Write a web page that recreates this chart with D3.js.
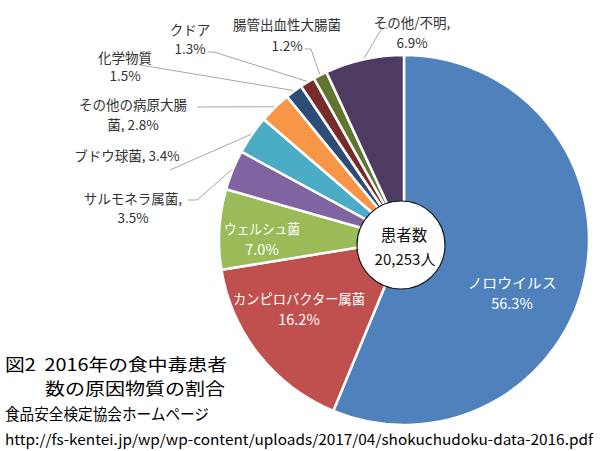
<!DOCTYPE html>
<html lang="ja">
<head>
<meta charset="UTF-8">
<title>食中毒患者数の原因物質</title>
<script src="https://cdn.jsdelivr.net/npm/d3@7"></script>
<style>
  body { margin: 0; background: #fff; }
  text { font-family: "Noto Sans CJK JP", "Noto Sans", sans-serif; }
</style>
</head>
<body>
<svg id="chart" width="600" height="451"></svg>
<script>
// data
const categories = ["ノロウイルス", "カンピロバクター属菌", "ウェルシュ菌", "サルモネラ属菌", "ブドウ球菌",
  "その他の病原大腸菌", "化学物質", "クドア", "腸管出血性大腸菌", "その他/不明"];
const values = [56.3, 16.2, 7.0, 3.5, 3.4, 2.8, 1.5, 1.3, 1.2, 6.9];
const colors = ["#4f81bd", "#c0504d", "#9bbb59", "#8064a2", "#4bacc6", "#f79646",
  "#2c4d75", "#772c2a", "#5f7530", "#4d3b62"];
const totalPatients = "20,253人";

const svg = d3.select("#chart")
const cx = 404, cy = 240, r = 185

const pie = d3.pie().sort(null).value(d => d)
const arcs = pie(values)
const arc = d3.arc().innerRadius(0).outerRadius(r)
const edge = d3.arc().innerRadius(r + 1).outerRadius(r + 1)

const g = svg.append("g").attr("transform", `translate(${cx},${cy})`)

g.selectAll("path.slice")
  .data(arcs)
  .join("path")
  .attr("class", "slice")
  .attr("d", arc)
  .attr("fill", (d, i) => colors[i])
  .attr("stroke", "#fff")
  .attr("stroke-width", 2.5)

// inside labels (white)
const inside = {
  0: { x: 512, y: 282, w: 89 },
  1: { x: 299, y: 298, w: 132 },
  2: { x: 262, y: 228, w: 76 }
}
Object.entries(inside).forEach(([i, p]) => {
  svg.append("text")
    .attr("x", p.x).attr("y", p.y)
    .attr("text-anchor", "middle").attr("dominant-baseline", "central")
    .attr("fill", "#fff")
    .attr("textLength", p.w).attr("lengthAdjust", "spacingAndGlyphs")
    .style("font-size", "14px")
    .text(categories[i])
  svg.append("text")
    .attr("x", p.x).attr("y", p.y + 20)
    .attr("text-anchor", "middle").attr("dominant-baseline", "central")
    .attr("fill", "#fff")
    .style("font-size", "14.5px")
    .text(values[i].toFixed(1) + "%")
})

// outside labels with leader lines
const pct = i => values[i].toFixed(1) + "%"
const outside = [
  { i: 3, x: 133, lines: [[198, categories[3] + ","], [217, pct(3)]], from: [[188, 200], [197, 200]] },
  { i: 4, x: 127, lines: [[155, categories[4] + ", " + pct(4)]], from: [[170, 170]] },
  { i: 5, x: 133, lines: [[104, "その他の病原大腸"], [124, "菌, " + pct(5)]], from: [[197, 107]] },
  { i: 6, x: 125, lines: [[57, categories[6]], [75, pct(6)]], from: [[140, 65]] },
  { i: 7, x: 190, lines: [[29, categories[7]], [48, pct(7)]], from: [[208, 52], [214, 52]] },
  { i: 8, x: 287, lines: [[24, categories[8]], [45, pct(8)]], from: [[305, 49], [311, 49]] },
  { i: 9, x: 412, lines: [[22, categories[9] + ","], [42, pct(9)]], from: [[388, 28], [382, 28]] }
]

outside.forEach(o => {
  const c = edge.centroid(arcs[o.i])
  const pts = o.from.concat([[c[0] + cx, c[1] + cy]])
  svg.append("path")
    .attr("d", d3.line()(pts))
    .attr("fill", "none")
    .attr("stroke", "#a6a6a6")
    .attr("stroke-width", 1)
  const t = svg.append("text")
    .attr("text-anchor", "middle")
    .attr("fill", "#333")
    .style("font-size", "13.5px")
  o.lines.forEach(([y, s]) => {
    t.append("tspan").attr("x", o.x).attr("y", y).attr("dominant-baseline", "central").text(s)
  })
})

// centre circle
svg.append("circle")
  .attr("cx", 401).attr("cy", 245).attr("r", 44)
  .attr("fill", "#fff")
  .attr("stroke", "#1a1a1a")
  .attr("stroke-width", 1.2)
svg.append("text").attr("x", 404).attr("y", 234).attr("text-anchor", "middle")
  .attr("dominant-baseline", "central").style("font-size", "15.5px").attr("fill", "#111")
  .text("患者数")
svg.append("text").attr("x", 405).attr("y", 258).attr("text-anchor", "middle")
  .attr("dominant-baseline", "central").style("font-size", "15px").attr("fill", "#111")
  .text(totalPatients)

// caption
const cap = [
  { x: 5, y: 371, s: "図2\u00a0 2016年の食中毒患者", size: 17, w: 222 },
  { x: 45, y: 395, s: "数の原因物質の割合", size: 17, w: 180 },
  { x: 5, y: 420, s: "食品安全検定協会ホームページ", size: 15.5, w: 204 },
  { x: 5, y: 445, s: "http://fs-kentei.jp/wp/wp-content/uploads/2017/04/shokuchudoku-data-2016.pdf", size: 14.5, w: 588 }
]
cap.forEach(c => {
  svg.append("text")
    .attr("x", c.x).attr("y", c.y)
    .attr("fill", "#000")
    .attr("textLength", c.w)
    .attr("lengthAdjust", "spacingAndGlyphs")
    .style("font-size", c.size + "px")
    .text(c.s)
})
</script>
</body>
</html>
